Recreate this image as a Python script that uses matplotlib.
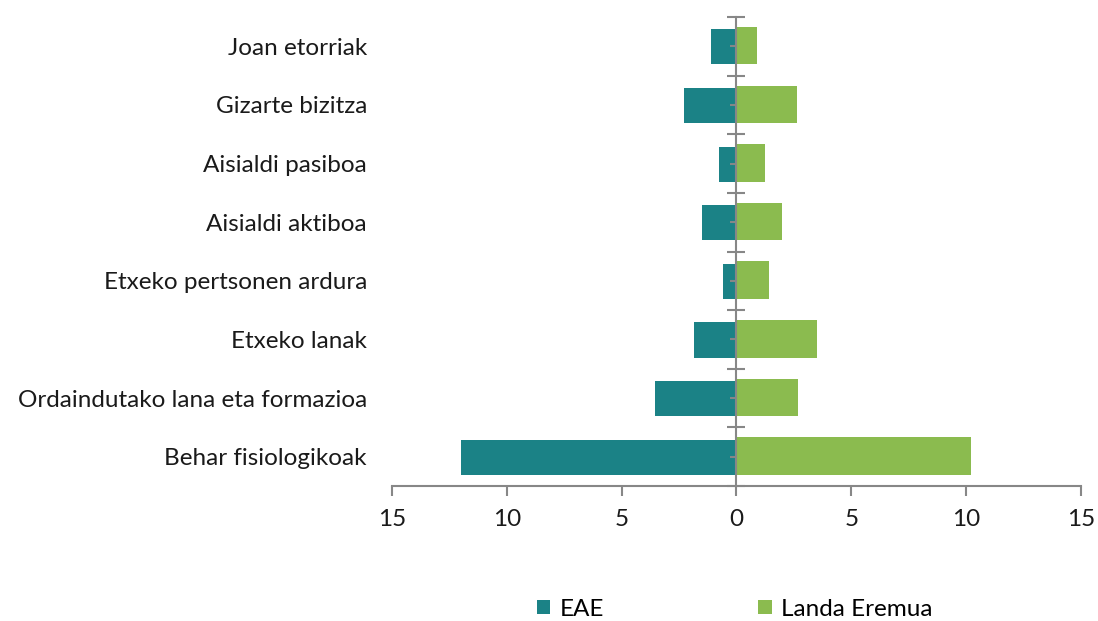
import numpy as np
import matplotlib
matplotlib.use('Agg')
import matplotlib.pyplot as plt
from matplotlib.ticker import FixedLocator, NullFormatter

categories = ['Joan etorriak', 'Gizarte bizitza', 'Aisialdi pasiboa', 'Aisialdi aktiboa',
              'Etxeko pertsonen ardura', 'Etxeko lanak',
              'Ordaindutako lana eta formazioa', 'Behar fisiologikoak']
eae = [-1.1, -2.3, -0.75, -1.5, -0.6, -1.85, -3.55, -12.0]
landa = [0.9, 2.65, 1.25, 2.0, 1.4, 3.5, 2.7, 10.2]
xticks = [-15, -10, -5, 0, 5, 10, 15]
xticklabels = ['15', '10', '5', '0', '5', '10', '15']

teal = '#1B8286'
green = '#8BBB4F'
grey = '#878787'
fs = 17.5

plt.rcParams['font.family'] = ['Lato', 'DejaVu Sans']

fig = plt.figure(figsize=(10.98, 6.21), dpi=100)
rect = [0.357, 0.2174, 0.6275, 0.7552]
ax = fig.add_axes(rect)

# top category at top
y = np.arange(len(categories))[::-1]
ax.barh(y - 0.01, eae, height=0.60, color=teal, label='EAE')
ax.barh(y + 0.01, landa, height=0.64, color=green, label='Landa Eremua')

ax.set_xlim(-15, 15)
ax.set_ylim(-0.5, len(categories) - 0.5)

ax.set_yticks(y)
ax.set_yticklabels(categories, fontsize=fs, color='#1a1a1a')
ax.tick_params(axis='y', length=0, pad=18)
ax.spines['left'].set_visible(False)
ax.spines['right'].set_visible(False)
ax.spines['top'].set_visible(False)
ax.spines['bottom'].set_color(grey)
ax.spines['bottom'].set_linewidth(1.5)

ax.set_xticks(xticks)
ax.set_xticklabels(xticklabels, fontsize=fs, color='#1a1a1a')
ax.tick_params(axis='x', direction='out', length=7.5, width=1.5, color=grey, pad=9)

# centre axis with category ticks, drawn over the bars
ax2 = fig.add_axes(rect)
ax2.patch.set_visible(False)
ax2.set_xlim(ax.get_xlim())
ax2.set_ylim(ax.get_ylim())
for s in ['right', 'top', 'bottom']:
    ax2.spines[s].set_visible(False)
ax2.spines['left'].set_position(('data', 0))
ax2.spines['left'].set_color(grey)
ax2.spines['left'].set_linewidth(1.5)
ax2.set_xticks([])
ax2.yaxis.set_major_locator(FixedLocator(np.arange(-0.5, len(categories), 1.0)))
ax2.yaxis.set_minor_locator(FixedLocator(y))
ax2.yaxis.set_major_formatter(NullFormatter())
ax2.yaxis.set_minor_formatter(NullFormatter())
ax2.tick_params(axis='y', which='major', direction='inout', length=13, width=1.5, color=grey)
ax2.tick_params(axis='y', which='minor', direction='out', length=4.5, width=1.5, color=grey)

h, l = ax.get_legend_handles_labels()
fig.legend(h, l, loc='center left', bbox_to_anchor=(537 / 1098, 1 - 609 / 621), ncol=2,
           frameon=False, fontsize=fs, handlelength=0.55, handleheight=0.55,
           handletextpad=0.38, columnspacing=6.35, borderpad=0, borderaxespad=0)

fig.savefig('out.png', dpi=100)
